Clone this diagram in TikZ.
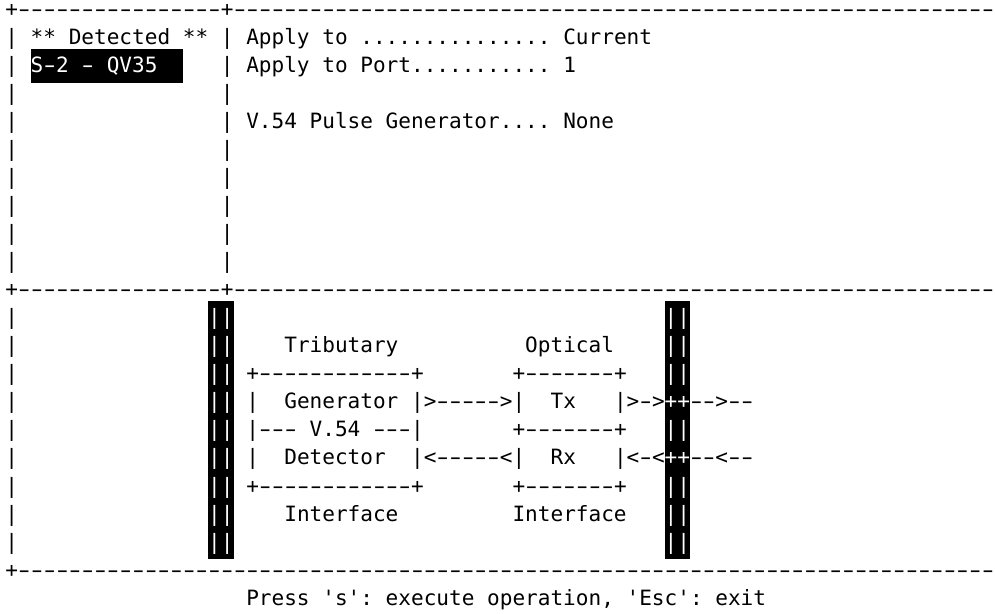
\documentclass[tikz,border=0pt]{standalone}
\usepackage{fontspec}
\setmonofont{DejaVu Sans Mono}
\usepackage{graphicx}
\newcommand\hy{\makebox[0.60205em][c]{\scalebox{1.6}[1]{-}}}
\ExplSyntaxOn
\cs_new:Npn \hys #1 { \prg_replicate:nn {#1} { \hy } }
\ExplSyntaxOff
\tikzset{
  txt/.style={anchor=base west,inner sep=0pt,outer sep=0pt,
    font=\ttfamily\fontsize{21.06}{28}\selectfont\frenchspacing},
  inv/.style={text=white},
  revbg/.style={fill=black}
}
\newcommand\tx[5][]{\node[txt,#1] (#2) at ({5.36+12.68*#3},{596-28*#4}) {#5};}
\begin{document}
\begin{tikzpicture}[x=1pt,y=1pt]
\useasboundingbox (0,0) rectangle (995,613);
\fill[white] (0,0) rectangle (995,613);
% reverse-video areas
\fill[revbg] (30.72,563.7) rectangle (182.88,530.3);
\fill[revbg] (208.24,312) rectangle (233.6,54.3);
\fill[revbg] (664.72,312) rectangle (690.08,54.3);
% top panel
\tx{r0}{0}{0}{+\hys{16}+\hys{60}}
\foreach \r in {1,...,9}{\tx{a\r}{0}{\r}{|}\tx{b\r}{17}{\r}{|}}
\tx{det}{2}{1}{** Detected **}
\tx[inv]{sel}{2}{2}{S\hy2 \hy{} QV35}
\tx{apl}{19}{1}{Apply to ...............}
\tx{aplv}{44}{1}{Current}
\tx{port}{19}{2}{Apply to Port...........}
\tx{portv}{44}{2}{1}
\tx{pulse}{19}{4}{V.54 Pulse Generator....}
\tx{pulsev}{44}{4}{None}
\tx{r10}{0}{10}{+\hys{16}+\hys{60}}
% bottom panel
\foreach \r in {11,...,19}{\tx{c\r}{0}{\r}{|}\tx[inv]{d\r}{16}{\r}{||}}
\foreach \r in {11,12,13,15,17,18,19}{\tx[inv]{e\r}{52}{\r}{||}}
\tx{trib}{22}{12}{Tributary}
\tx{opt}{41}{12}{Optical}
\tx{tbtop}{19}{13}{+\hys{12}+}
\tx{obtop}{40}{13}{+\hys{7}+}
\tx{gl}{19}{14}{|}
\tx{gen}{22}{14}{Generator}
\tx{garr}{32}{14}{|>\hys{5}>|}
\tx{tx}{43}{14}{Tx}
\tx{txarr}{48}{14}{|>\hy>}
\tx[inv]{txx}{52}{14}{++}
\tx{txout}{54}{14}{\hys{2}>\hys{2}}
\tx{v54}{19}{15}{|\hys{3} V.54 \hys{3}|}
\tx{obmid}{40}{15}{+\hys{7}+}
\tx{dl}{19}{16}{|}
\tx{detr}{22}{16}{Detector}
\tx{darr}{32}{16}{|<\hys{5}<|}
\tx{rx}{43}{16}{Rx}
\tx{rxarr}{48}{16}{|<\hy<}
\tx[inv]{rxx}{52}{16}{++}
\tx{rxin}{54}{16}{\hys{2}<\hys{2}}
\tx{tbbot}{19}{17}{+\hys{12}+}
\tx{obbot}{40}{17}{+\hys{7}+}
\tx{tif}{22}{18}{Interface}
\tx{oif}{40}{18}{Interface}
\tx{r20}{0}{20}{+\hys{77}}
\tx{press}{19}{21}{Press 's': execute operation, 'Esc': exit}
\end{tikzpicture}
\end{document}
